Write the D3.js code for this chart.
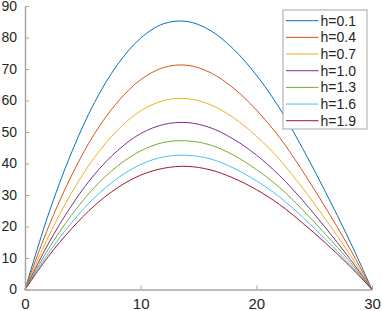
<!DOCTYPE html>
<html lang="en">
<head>
    <meta charset="UTF-8">
    <title>h curves</title>
    <script src="https://d3js.org/d3.v7.min.js"></script>
    <style>
        body { margin: 0; background: #fff; }
        svg { display: block; font-family: 'Liberation Sans', Arial, sans-serif; }
        .axis path, .axis line { stroke: #a6a6a6; }
        .axis text { fill: #262626; font-size: 15px; }
        .axis.y text { font-size: 14px; }
        .curve { fill: none; stroke-width: 1; }
        .legend text { fill: #262626; font-size: 14px; }
    </style>
</head>
<body>
    <div id="chart"></div>

    <script>
        // data
        const xs = [0, 2, 4, 6, 8, 10, 12, 14, 16, 18, 20, 22, 24, 26, 28, 30];
        const labels = ["h=0.1", "h=0.4", "h=0.7", "h=1.0", "h=1.3", "h=1.6", "h=1.9"];
        const h01 = [0, 23.6, 43.3, 59.3, 71.4, 79.8, 84.4, 85.1, 82.3, 76.4, 68.1, 57.6, 44.8, 30.8, 16.0, 0];
        const h04 = [0, 19.6, 36.0, 49.4, 59.5, 66.6, 70.5, 71.2, 68.9, 64.0, 57.0, 48.3, 37.6, 25.9, 13.5, 0];
        const h07 = [0, 16.6, 30.5, 41.9, 50.6, 56.7, 60.0, 60.6, 58.7, 54.6, 48.7, 41.3, 32.2, 22.2, 11.6, 0];
        const h10 = [0, 14.4, 26.5, 36.5, 44.1, 49.5, 52.4, 53.0, 51.4, 47.8, 42.7, 36.2, 28.3, 19.5, 10.2, 0];
        const h13 = [0, 12.7, 23.5, 32.4, 39.2, 44.0, 46.7, 47.2, 45.9, 42.7, 38.1, 32.4, 25.3, 17.5, 9.2, 0];
        const h16 = [0, 11.4, 21.1, 29.1, 35.3, 39.7, 42.1, 42.6, 41.5, 38.6, 34.5, 29.4, 23.0, 15.9, 8.3, 0];
        const h19 = [0, 10.4, 19.2, 26.6, 32.3, 36.3, 38.5, 39.1, 38.0, 35.4, 31.7, 27.0, 21.1, 14.7, 7.7, 0];
        const xTicks = [0, 10, 20, 30];
        const yTicks = [0, 10, 20, 30, 40, 50, 60, 70, 80, 90];
        const colors = ["#0072bd", "#d95319", "#edb120", "#7e2f8e", "#77ac30", "#4dbeee", "#a2142f"];

        const series = [h01, h04, h07, h10, h13, h16, h19].map((vals, i) => ({
            name: labels[i],
            color: colors[i],
            points: xs.map((x, j) => [x, vals[j]])
        }));

        const W = 382, H = 311;
        const margin = { left: 25, right: 10, top: 6, bottom: 21.5 };

        const svg = d3.select("#chart").append("svg")
            .attr("width", W)
            .attr("height", H);

        const x = d3.scaleLinear().domain([0, 30]).range([margin.left, W - margin.right]);
        const y = d3.scaleLinear().domain([0, 90]).range([H - margin.bottom, margin.top]);

        // curves
        const line = d3.line()
            .x(d => x(d[0]))
            .y(d => y(d[1]))
            .curve(d3.curveCatmullRom.alpha(0.5));

        svg.selectAll(".curve")
            .data(series)
            .enter().append("path")
            .attr("class", "curve")
            .attr("stroke", d => d.color)
            .attr("d", d => line(d.points));

        // axes, ticks pointing inward
        svg.append("g")
            .attr("class", "axis x")
            .attr("transform", `translate(0,${y(0)})`)
            .call(d3.axisBottom(x).tickValues(xTicks).tickSizeInner(-4).tickSizeOuter(0).tickPadding(9));

        svg.append("g")
            .attr("class", "axis y")
            .attr("transform", `translate(${x(0)},0)`)
            .call(d3.axisLeft(y).tickValues(yTicks).tickSizeInner(-4).tickSizeOuter(0).tickPadding(8));

        svg.selectAll(".axis .domain").attr("stroke-width", 1.5);

        // legend
        const lg = svg.append("g").attr("class", "legend");
        const lx = 283, ly = 10, lw = 84, lh = 119, rowH = 16.67;

        lg.append("rect")
            .attr("x", lx).attr("y", ly)
            .attr("width", lw).attr("height", lh)
            .attr("fill", "#fff")
            .attr("stroke", "#a6a6a6");

        const rows = lg.selectAll(".row")
            .data(series)
            .enter().append("g")
            .attr("class", "row")
            .attr("transform", (d, i) => `translate(${lx},${ly + 10.7 + i * rowH})`);

        rows.append("line")
            .attr("x1", 3).attr("x2", 35.5)
            .attr("stroke", d => d.color)
            .attr("stroke-width", 1);

        rows.append("text")
            .attr("x", 37.5)
            .attr("dy", "0.35em")
            .text(d => d.name);
    </script>
</body>
</html>
